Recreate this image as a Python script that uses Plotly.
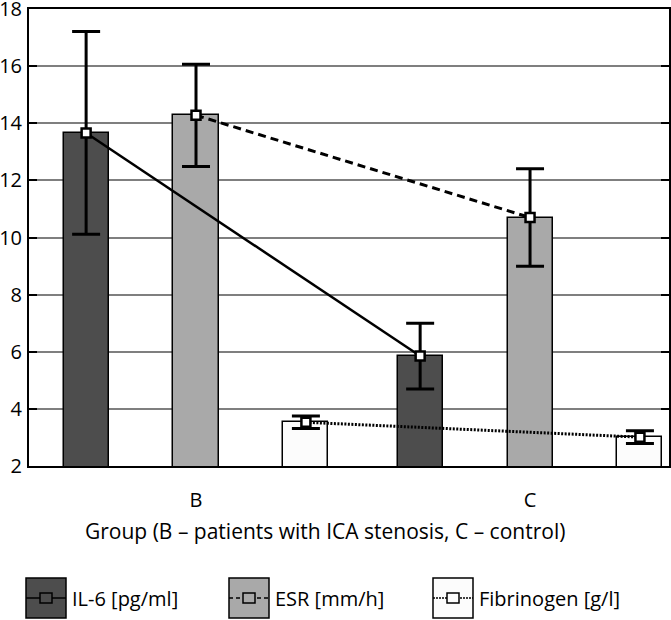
import plotly.graph_objects as go

# ---- data ----
groups = ["B", "C"]
il6 = [13.66, 5.85]
il6_err = [3.55, 1.15]
esr = [14.28, 10.70]
esr_err = [1.79, 1.71]
fib = [3.53, 3.01]
fib_err = [0.22, 0.22]

series_names = ["IL-6 [pg/ml]", "ESR [mm/h]", "Fibrinogen [g/l]"]
bar_colors = ["#4d4d4d", "#a9a9a9", "#fcfcfc"]
line_dash = ["solid", "8px,5px", "2px,1.5px"]
line_width = [2.5, 3, 3]

values = [il6, esr, fib]
errors = [il6_err, esr_err, fib_err]

offsets = [-0.329, 0.0, 0.329]
bar_w = 0.135
gx = list(range(len(groups)))

W, H = 671, 620
ML, MR, MT, MB = 29, 2, 9, 154
PW, PH = W - ML - MR, H - MT - MB

fig = go.Figure()

for i in range(3):
    xs = [g + offsets[i] for g in gx]
    fig.add_trace(go.Bar(
        x=xs, y=values[i], width=bar_w, base=0,
        marker=dict(color=bar_colors[i], line=dict(color="black", width=1.5)),
        error_y=dict(type="data", array=errors[i], color="black", thickness=3, width=14),
        showlegend=False, hoverinfo="skip",
    ))

for i in range(3):
    xs = [g + offsets[i] for g in gx]
    fig.add_trace(go.Scatter(
        x=xs, y=values[i], mode="lines+markers",
        line=dict(color="black", width=line_width[i], dash=line_dash[i]),
        marker=dict(symbol="square", size=9, color="white", line=dict(color="black", width=2.5)),
        showlegend=False, name=series_names[i],
    ))

font = "Open Sans"

fig.update_layout(
    width=W, height=H,
    margin=dict(l=ML, r=MR, t=MT, b=MB, autoexpand=False),
    paper_bgcolor="white", plot_bgcolor="white",
    font=dict(family=font, size=20, color="black"),
    bargap=0,
    xaxis=dict(
        range=[-0.5, 1.416], tickmode="array", tickvals=gx, ticktext=groups,
        showgrid=False, zeroline=False, showline=True, linecolor="black", linewidth=2,
        mirror=True, ticks="", ticklabelstandoff=15, automargin=False,
        tickfont=dict(size=20),
    ),
    yaxis=dict(
        range=[2, 18], dtick=2, tick0=2,
        showgrid=True, gridcolor="#7f7f7f", gridwidth=1.5,
        zeroline=False, showline=True, linecolor="black", linewidth=2,
        mirror="allticks", ticks="inside", ticklen=8, tickwidth=2, tickcolor="black",
        ticklabelstandoff=1, automargin=False, ticklabeloverflow="allow",
        tickfont=dict(size=20),
    ),
)

# ---- custom legend (boxes with line + square marker) and axis title ----
def px(x):
    return (x - ML) / PW

def py(y):
    return (H - MB - y) / PH

shapes = []
annotations = []

annotations.append(dict(xref="paper", yref="paper", x=px(325), y=py(531),
                        xanchor="center", yanchor="middle", showarrow=False,
                        text="Group (B \u2013 patients with ICA stenosis, C \u2013 control)",
                        font=dict(family=font, size=21, color="black")))

leg_box_x = [26, 229, 433]
box_w, box_h = 40, 40
box_top = 578
for i in range(3):
    x0 = leg_box_x[i]
    x1 = x0 + box_w
    y0 = box_top
    y1 = box_top + box_h
    cy = (y0 + y1) / 2
    cx = (x0 + x1) / 2
    shapes.append(dict(type="rect", xref="paper", yref="paper",
                       x0=px(x0), x1=px(x1), y0=py(y1), y1=py(y0),
                       fillcolor=bar_colors[i], line=dict(color="black", width=1.5)))
    dash = ["solid", "4px,3px", "2px,1px"][i]
    shapes.append(dict(type="line", xref="paper", yref="paper",
                       x0=px(x0), x1=px(x1), y0=py(cy), y1=py(cy),
                       line=dict(color="black", width=1.5, dash=dash)))
    shapes.append(dict(type="rect", xref="paper", yref="paper",
                       x0=px(cx - 6), x1=px(cx + 6), y0=py(cy + 5), y1=py(cy - 5),
                       fillcolor=bar_colors[i], line=dict(color="black", width=1.5)))
    annotations.append(dict(xref="paper", yref="paper", x=px(x1 + 4), y=py(cy),
                            xanchor="left", yanchor="middle", showarrow=False,
                            text=series_names[i], font=dict(family=font, size=20, color="black")))

fig.update_layout(shapes=shapes, annotations=annotations)

fig.write_html("out.html", config={"displayModeBar": False},
               post_script="document.body.style.margin='0';document.body.style.padding='0';")
